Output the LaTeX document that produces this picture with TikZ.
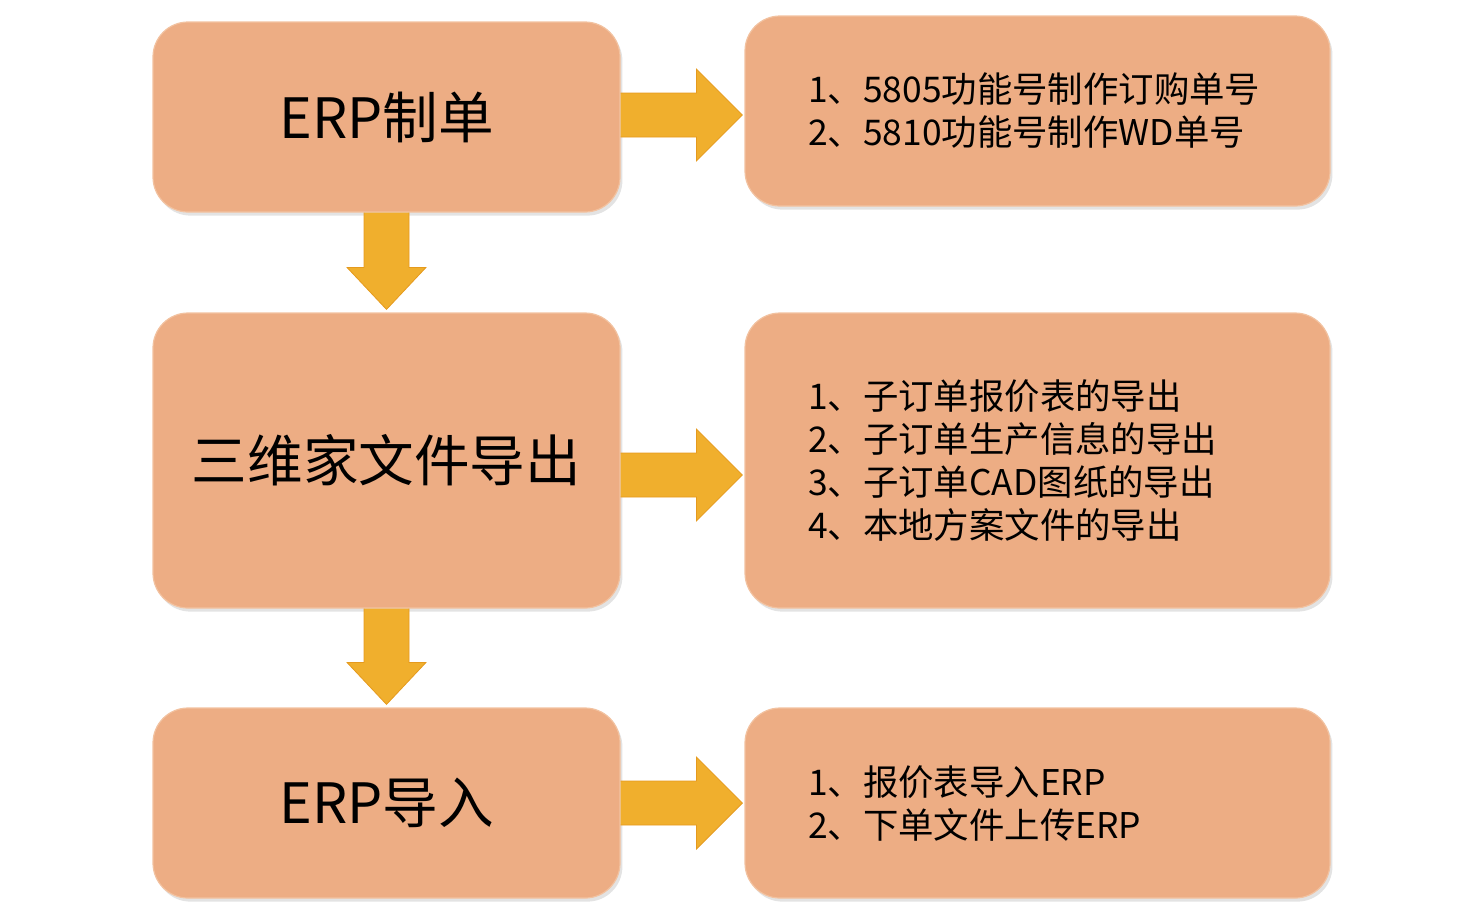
\documentclass[tikz,border=0pt]{standalone}
\usepackage{fontspec}
\setmainfont{Noto Sans CJK SC}
\usetikzlibrary{shadows,calc}
\definecolor{boxfill}{HTML}{EDAD84}
\definecolor{boxedge}{HTML}{F2C2A0}
\definecolor{arrowfill}{HTML}{F0AF2D}
\definecolor{arrowedge}{HTML}{E59A1E}
\tikzset{
  stepbox/.style={fill=boxfill, draw=boxedge, line width=0.6pt, rounded corners=17.5pt,
    drop shadow={shadow xshift=1.2pt, shadow yshift=-1.8pt, opacity=0.22, fill=black!50}},
  leftbox/.style={stepbox, minimum width=233.5pt, font=\fontsize{27.8}{32}\selectfont},
  infobox/.style={stepbox, minimum width=292.5pt, text width=229.5pt, inner xsep=31.5pt,
    align=left, font=\fontsize{17.7}{21.5}\selectfont},
  flowarrow/.style={fill=arrowfill, draw=arrowedge, line width=0.4pt, line join=miter}
}
\begin{document}
\begin{tikzpicture}[x=0.5pt,y=-0.5pt]
\useasboundingbox (0,0) rectangle (1459,912);
% left boxes
\node[leftbox, minimum height=95pt] (L1) at (386.5,117) {ERP制单};
\node[leftbox, minimum height=147.5pt] (L2) at (386.5,460.5) {三维家文件导出};
\node[leftbox, minimum height=95pt] (L3) at (386.5,803) {ERP导入};
% right boxes
\node[infobox, minimum height=95pt] (R1) at (1037.5,111) {1、5805功能号制作订购单号\\2、5810功能号制作WD单号};
\node[infobox, minimum height=147.5pt] (R2) at (1037.5,460.5) {1、子订单报价表的导出\\2、子订单生产信息的导出\\3、子订单CAD图纸的导出\\4、本地方案文件的导出};
\node[infobox, minimum height=95pt] (R3) at (1037.5,803) {1、报价表导入ERP\\2、下单文件上传ERP};
% right arrows
\foreach \a/\b/\yy in {L1/R1/115, L2/R2/475, L3/R3/803}{
  \draw[flowarrow]
    ($(\a.east |- 0,\yy)+(0,-22)$) -- ($(\b.west |- 0,\yy)+(-48,-22)$) --
    ($(\b.west |- 0,\yy)+(-48,-46)$) -- ($(\b.west |- 0,\yy)+(-2,0)$) --
    ($(\b.west |- 0,\yy)+(-48,46)$) -- ($(\b.west |- 0,\yy)+(-48,22)$) --
    ($(\a.east |- 0,\yy)+(0,22)$);
}
% down arrows
\foreach \a/\b in {L1/L2, L2/L3}{
  \draw[flowarrow]
    ($(\a.south)+(-22.5,0)$) -- ($(\b.north)+(-22.5,-45)$) --
    ($(\b.north)+(-39.5,-45)$) -- ($(\b.north)+(0,-3)$) --
    ($(\b.north)+(39.5,-45)$) -- ($(\b.north)+(22.5,-45)$) --
    ($(\a.south)+(22.5,0)$);
}
\end{tikzpicture}
\end{document}
